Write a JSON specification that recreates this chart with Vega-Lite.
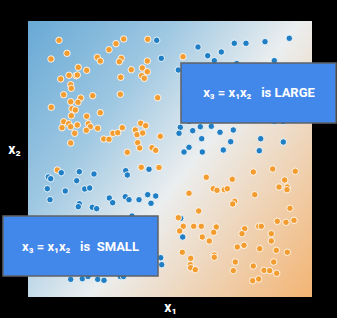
{
  "$schema": "https://vega.github.io/schema/vega-lite/v6.json",
  "width": 284,
  "height": 276,
  "autosize": "none",
  "padding": {"left": 28, "top": 21, "right": 25, "bottom": 21},
  "background": "#000000",
  "config": {"view": {"stroke": null}},
  "datasets": {
    "pts": [
      {"x":31,"y":256.7,"c":"o"},{"x":39,"y":243.7,"c":"o"},{"x":23,"y":238,"c":"o"},{"x":95.7,"y":258,"c":"o"},{"x":88,"y":253.3,"c":"o"},{"x":81,"y":247.3,"c":"o"},{"x":119.7,"y":257.7,"c":"o"},{"x":69.3,"y":239.7,"c":"o"},{"x":72.3,"y":236,"c":"o"},{"x":93.3,"y":238.7,"c":"o"},{"x":91.3,"y":235.3,"c":"o"},{"x":119.3,"y":236,"c":"o"},{"x":50.3,"y":229.7,"c":"o"},{"x":58.7,"y":226.7,"c":"o"},{"x":103.3,"y":227.3,"c":"o"},{"x":114.3,"y":229,"c":"o"},{"x":119.3,"y":225.3,"c":"o"},{"x":113.7,"y":221.3,"c":"o"},{"x":116.3,"y":218.7,"c":"o"},{"x":32.7,"y":218,"c":"o"},{"x":41,"y":221.7,"c":"o"},{"x":48,"y":221.3,"c":"o"},{"x":49.3,"y":222,"c":"o"},{"x":92.7,"y":219.7,"c":"o"},{"x":42.7,"y":212.3,"c":"o"},{"x":43.3,"y":208.7,"c":"o"},{"x":35.7,"y":202.3,"c":"o"},{"x":52.7,"y":199,"c":"o"},{"x":64.7,"y":201.3,"c":"o"},{"x":92.3,"y":202.7,"c":"o"},{"x":129.7,"y":199.3,"c":"o"},{"x":42.7,"y":195.3,"c":"o"},{"x":50,"y":194.7,"c":"o"},{"x":23.3,"y":189.7,"c":"o"},{"x":44,"y":188.3,"c":"o"},{"x":47.3,"y":187,"c":"o"},{"x":72.3,"y":184.3,"c":"o"},{"x":43.3,"y":181.3,"c":"o"},{"x":58.7,"y":180.7,"c":"o"},{"x":35.7,"y":175.3,"c":"o"},{"x":40.7,"y":173.3,"c":"o"},{"x":34,"y":169.3,"c":"o"},{"x":42.7,"y":170.3,"c":"o"},{"x":49.3,"y":172,"c":"o"},{"x":60.3,"y":173.3,"c":"o"},{"x":62.3,"y":170.3,"c":"o"},{"x":69.7,"y":168.7,"c":"o"},{"x":58.3,"y":166.7,"c":"o"},{"x":94.3,"y":169.3,"c":"o"},{"x":85,"y":163.7,"c":"o"},{"x":89.7,"y":164.3,"c":"o"},{"x":46.7,"y":163.7,"c":"o"},{"x":112.7,"y":173.7,"c":"o"},{"x":117.7,"y":171.3,"c":"o"},{"x":107.3,"y":167,"c":"o"},{"x":109,"y":162.3,"c":"o"},{"x":114.7,"y":164,"c":"o"},{"x":132.3,"y":160.7,"c":"o"},{"x":75.7,"y":158,"c":"o"},{"x":81,"y":157.7,"c":"o"},{"x":42.7,"y":154,"c":"o"},{"x":109.7,"y":154.3,"c":"o"},{"x":111.7,"y":149,"c":"o"},{"x":124,"y":149.3,"c":"o"},{"x":127.7,"y":146.7,"c":"o"},{"x":99.3,"y":144.7,"c":"o"},{"x":155,"y":240.3,"c":"o"},
      {"x":128.7,"y":256.7,"c":"b"},{"x":133.3,"y":238.7,"c":"b"},
      {"x":170,"y":250,"c":"b"},{"x":206.3,"y":253.7,"c":"b"},{"x":218,"y":253.7,"c":"b"},{"x":237,"y":255.3,"c":"b"},{"x":261.3,"y":258.7,"c":"b"},{"x":179.7,"y":241.3,"c":"b"},{"x":193.3,"y":245,"c":"b"},{"x":186.3,"y":236.3,"c":"b"},{"x":246.3,"y":236.3,"c":"b"},{"x":150.3,"y":227,"c":"b"},{"x":208.7,"y":233.5,"c":"b"},
      {"x":152.3,"y":169.7,"c":"b"},{"x":151,"y":163.7,"c":"b"},{"x":164.7,"y":166.3,"c":"b"},{"x":172.3,"y":170.3,"c":"b"},{"x":183.3,"y":170.7,"c":"b"},{"x":192,"y":164.7,"c":"b"},{"x":205.3,"y":167,"c":"b"},{"x":173.7,"y":158.3,"c":"b"},{"x":202.7,"y":155.3,"c":"b"},{"x":232.7,"y":158.3,"c":"b"},{"x":255.3,"y":155,"c":"b"},{"x":161,"y":149.7,"c":"b"},{"x":156,"y":145,"c":"b"},{"x":174.3,"y":145,"c":"b"},{"x":195.3,"y":147,"c":"b"},{"x":231.3,"y":146.3,"c":"b"},{"x":161,"y":175.5,"c":"b"},{"x":246.3,"y":175.5,"c":"b"},{"x":255,"y":175.5,"c":"b"},
      {"x":29.3,"y":127,"c":"o"},{"x":33.3,"y":124.3,"c":"b"},{"x":20.3,"y":120,"c":"b"},{"x":22.7,"y":118.3,"c":"b"},{"x":51.3,"y":125.3,"c":"b"},{"x":66,"y":123,"c":"b"},{"x":48.7,"y":116.3,"c":"b"},{"x":19.3,"y":108.3,"c":"b"},{"x":37.3,"y":106,"c":"b"},{"x":56.7,"y":108,"c":"b"},{"x":61.7,"y":109,"c":"b"},{"x":22,"y":97.3,"c":"b"},{"x":51.3,"y":93.3,"c":"b"},{"x":50.3,"y":90.3,"c":"b"},{"x":64.3,"y":89.7,"c":"b"},{"x":68.7,"y":88.3,"c":"b"},{"x":97.7,"y":126.3,"c":"b"},{"x":99.3,"y":122,"c":"b"},{"x":113.3,"y":129.7,"c":"o"},{"x":121,"y":127.7,"c":"b"},{"x":131,"y":129.5,"c":"o"},{"x":81.3,"y":99,"c":"b"},{"x":84.7,"y":94.3,"c":"b"},{"x":97.3,"y":100.3,"c":"b"},{"x":101,"y":97.3,"c":"b"},{"x":111,"y":97.3,"c":"b"},{"x":119.7,"y":102.3,"c":"b"},{"x":127.7,"y":101,"c":"b"},{"x":123,"y":93.7,"c":"b"},{"x":104,"y":81,"c":"b"},{"x":132.7,"y":39.3,"c":"b"},{"x":133.7,"y":32.3,"c":"b"},{"x":42.7,"y":17.7,"c":"b"},{"x":54.3,"y":18.3,"c":"b"},{"x":69.7,"y":17.7,"c":"b"},{"x":76,"y":16.7,"c":"b"},{"x":92.3,"y":20.5,"c":"b"},{"x":95.5,"y":20.5,"c":"b"},{"x":60,"y":20.5,"c":"b"},{"x":152.7,"y":78.7,"c":"b"},{"x":154.7,"y":60,"c":"b"},
      {"x":225.3,"y":125,"c":"o"},{"x":244.7,"y":128,"c":"o"},{"x":267.3,"y":125.7,"c":"o"},{"x":178.3,"y":119.7,"c":"o"},{"x":204.3,"y":117.7,"c":"o"},{"x":256.7,"y":117,"c":"o"},{"x":251,"y":110,"c":"o"},{"x":259.3,"y":110,"c":"o"},{"x":259,"y":107.3,"c":"o"},{"x":185.3,"y":108.3,"c":"o"},{"x":189,"y":106.7,"c":"o"},{"x":196.3,"y":107.3,"c":"o"},{"x":199.3,"y":108.3,"c":"o"},{"x":161,"y":103.7,"c":"o"},{"x":226.7,"y":102.3,"c":"o"},{"x":206.7,"y":95.7,"c":"o"},{"x":204.7,"y":93,"c":"o"},{"x":262,"y":88.7,"c":"o"},{"x":170.7,"y":86,"c":"o"},{"x":150.3,"y":79.3,"c":"o"},{"x":155.3,"y":70.7,"c":"o"},{"x":165.7,"y":70.7,"c":"o"},{"x":173.3,"y":70.7,"c":"o"},{"x":188.3,"y":70,"c":"o"},{"x":151.7,"y":66,"c":"o"},{"x":185.7,"y":64.7,"c":"o"},{"x":174.3,"y":60,"c":"o"},{"x":181.3,"y":56,"c":"o"},{"x":216.7,"y":68.3,"c":"o"},{"x":214,"y":63.3,"c":"o"},{"x":230.7,"y":70.7,"c":"o"},{"x":233.3,"y":70.7,"c":"o"},{"x":249.3,"y":75.7,"c":"o"},{"x":258,"y":74.7,"c":"o"},{"x":266,"y":76.7,"c":"o"},{"x":243.3,"y":63.3,"c":"o"},{"x":243.3,"y":56,"c":"o"},{"x":209.3,"y":50,"c":"o"},{"x":216,"y":51.7,"c":"o"},{"x":231.7,"y":48.3,"c":"o"},{"x":248.3,"y":46.7,"c":"o"},{"x":259.3,"y":44.7,"c":"o"},{"x":154.3,"y":44.7,"c":"o"},{"x":186.3,"y":42,"c":"o"},{"x":186.3,"y":39.7,"c":"o"},{"x":162.7,"y":38.7,"c":"o"},{"x":162.3,"y":32.3,"c":"o"},{"x":162.7,"y":29.3,"c":"o"},{"x":167.3,"y":27.3,"c":"o"},{"x":207.3,"y":35,"c":"o"},{"x":225.3,"y":31,"c":"o"},{"x":245.7,"y":35,"c":"o"},{"x":205.3,"y":26.3,"c":"o"},{"x":236,"y":26.7,"c":"o"},{"x":241.7,"y":26.3,"c":"o"},{"x":248.7,"y":23.7,"c":"o"},{"x":224.7,"y":16.3,"c":"o"},{"x":230.7,"y":18,"c":"o"}
    ],
    "boxes": [
      {"x0":153,"x1":308,"y0":174,"y1":234,"tx":231,"ty":204,"label":"x₃ = x₁x₂\u00a0\u00a0 is LARGE"},
      {"x0":-25,"x1":130,"y0":21,"y1":81,"tx":52.5,"ty":50,"label":"x₃ = x₁x₂\u00a0\u00a0 is\u00a0 SMALL"}
    ]
  },
  "layer": [
    {
      "data": {"values": [{}]},
      "mark": {
        "type": "rect",
        "fill": {
          "gradient": "linear",
          "x1": 0, "y1": 0, "x2": 1.12, "y2": 0.84,
          "stops": [
            {"offset": 0, "color": "#68a9d5"},
            {"offset": 0.3, "color": "#9fc8e2"},
            {"offset": 0.55, "color": "#ebeeef"},
            {"offset": 1, "color": "#f3b473"}
          ]
        }
      },
      "encoding": {
        "x": {"datum": 0, "type": "quantitative"},
        "x2": {"datum": 284},
        "y": {"datum": 0, "type": "quantitative"},
        "y2": {"datum": 276}
      }
    },
    {
      "data": {"name": "pts"},
      "mark": {"type": "circle", "size": 42, "opacity": 1, "stroke": "#ffffff", "strokeWidth": 1, "strokeOpacity": 0.85},
      "encoding": {
        "x": {"field": "x", "type": "quantitative"},
        "y": {"field": "y", "type": "quantitative"},
        "fill": {"field": "c", "type": "nominal", "scale": {"domain": ["b", "o"], "range": ["#1f7ec4", "#f39c30"]}, "legend": null}
      }
    },
    {
      "data": {"name": "boxes"},
      "mark": {"type": "rect", "fill": "#4287ea", "stroke": "#5f6368", "strokeWidth": 1.5, "clip": false},
      "encoding": {
        "x": {"field": "x0", "type": "quantitative"},
        "x2": {"field": "x1"},
        "y": {"field": "y0", "type": "quantitative"},
        "y2": {"field": "y1"}
      }
    },
    {
      "data": {"name": "boxes"},
      "mark": {"type": "text", "color": "#ffffff", "font": "Roboto", "fontSize": 13, "fontWeight": "bold", "align": "center", "baseline": "middle", "clip": false},
      "encoding": {
        "x": {"field": "tx", "type": "quantitative"},
        "y": {"field": "ty", "type": "quantitative"},
        "text": {"field": "label"}
      }
    }
  ],
  "resolve": {"scale": {"x": "shared", "y": "shared"}},
  "encoding": {
    "x": {
      "type": "quantitative",
      "scale": {"domain": [0, 284], "nice": false, "zero": false},
      "axis": {"title": "x₁", "labels": false, "ticks": false, "domain": false, "grid": false, "titleColor": "#ffffff", "titleFont": "Roboto", "titleFontSize": 14, "titleFontWeight": "bold", "titlePadding": 3}
    },
    "y": {
      "type": "quantitative",
      "scale": {"domain": [0, 276], "nice": false, "zero": false},
      "axis": {"title": "x₂", "labels": false, "ticks": false, "domain": false, "grid": false, "titleColor": "#ffffff", "titleFont": "Roboto", "titleFontSize": 14, "titleFontWeight": "bold", "titleAngle": 0, "titleX": -14, "titleY": 128, "titleAlign": "center", "titleBaseline": "middle"}
    }
  }
}
